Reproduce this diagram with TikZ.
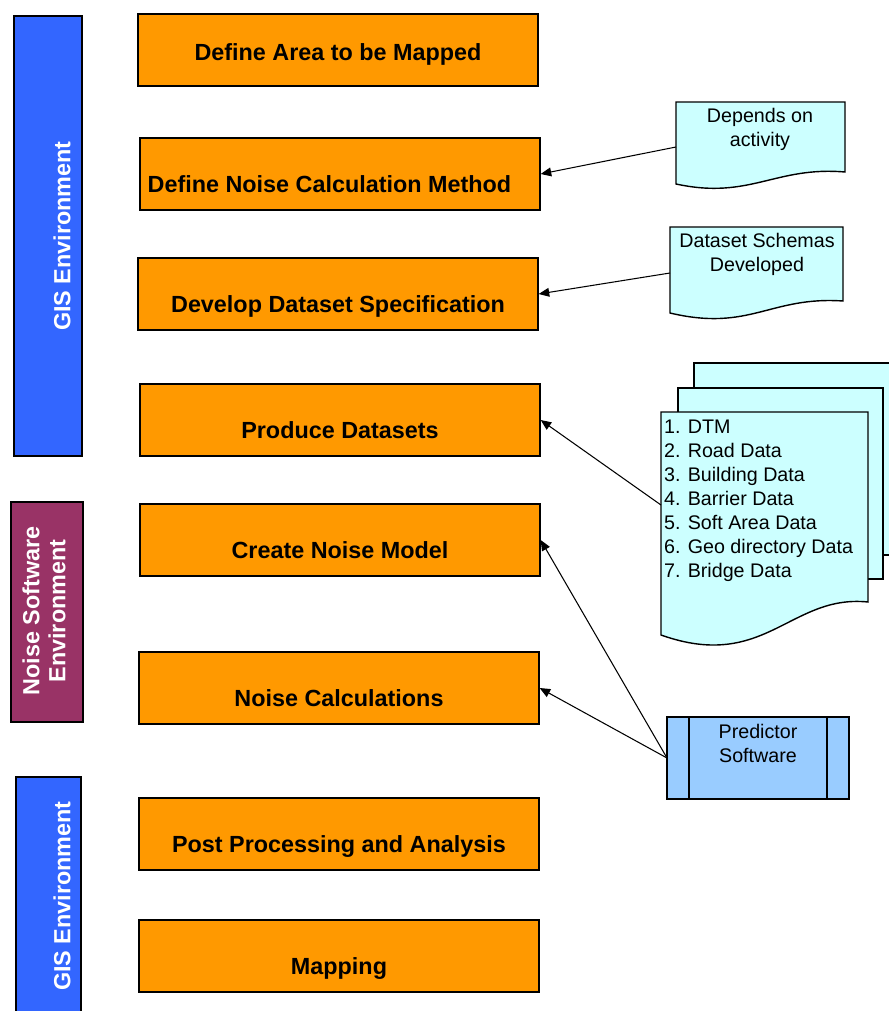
\documentclass[tikz,border=0pt]{standalone}
\usepackage{fontspec}
\setmainfont{Liberation Sans}
\usetikzlibrary{arrows.meta}
\definecolor{steporange}{HTML}{FF9900}
\definecolor{gisblue}{HTML}{3366FF}
\definecolor{noisepurple}{HTML}{993366}
\definecolor{doccyan}{HTML}{CCFFFF}
\definecolor{toolblue}{HTML}{99CCFF}
\begin{document}
\begin{tikzpicture}
[x=0.02cm, y=-0.02cm,
 stepbox/.style={draw, line width=0.8pt, fill=steporange, minimum width=8cm, minimum height=1.44cm,
   font=\bfseries\fontsize{13.3}{16}\selectfont, text height=21pt, text depth=0pt},
 envbar/.style={draw, line width=0.8pt},
 envtext/.style={rotate=90, text=white, align=center, font=\bfseries\fontsize{13.3}{14.7}\selectfont},
 doc/.style={draw, line width=0.8pt, fill=doccyan},
 doctext/.style={align=center, inner sep=1pt, font=\fontsize{11.2}{13.6}\selectfont},
 feed/.style={-{Triangle[length=6pt,width=5pt]}, line width=0.6pt}]

\useasboundingbox (0,0) rectangle (889,1011);

%________________________________________________%
% environments down the left side
\fill[gisblue] (14,16) rectangle (82,456);
\draw[envbar] (14,16) rectangle (82,456);
\node[envtext] (gistop) at (62,236) {GIS Environment};

\fill[noisepurple] (11,502) rectangle (83,722);
\draw[envbar] (11,502) rectangle (83,722);
\node[envtext] (noiseenv) at (44,611) {Noise Software\\Environment};

\fill[gisblue] (16,777) rectangle (81,1011);
\draw[envbar] (16,1011) -- (16,777) -- (81,777) -- (81,1011);
\node[envtext] (gisbottom) at (62,896) {GIS Environment};

%________________________________________________%
% steps
\node[stepbox, text height=12pt] (area) at (338,50) {Define Area to be Mapped};
\node[stepbox, inner xsep=1pt] (method) at (340,174) {Define Noise Calculation Method\hspace*{12pt}};
\node[stepbox] (spec) at (338,294) {Develop Dataset Specification};
\node[stepbox] (produce) at (340,420) {Produce Datasets};
\node[stepbox] (model) at (340,540) {Create Noise Model};
\node[stepbox] (calc) at (339,688) {Noise Calculations};
\node[stepbox] (post) at (339,834) {Post Processing and Analysis};
\node[stepbox] (mapping) at (339,956) {Mapping};

%________________________________________________%
% documents on the right
\draw[doc] (676,102) -- (845,102) -- (845,172) .. controls (775,166) and (750,200) .. (676,184) -- cycle;
\node[doctext, anchor=north] (depends) at (760,106) {Depends on\\activity};
\coordinate (dependsin) at (676,147);

\draw[doc] (670,227) -- (843,227) -- (843,301) .. controls (770,296) and (750,332) .. (670,313) -- cycle;
\node[doctext, anchor=north] (schemas) at (757,231) {Dataset Schemas\\Developed};
\coordinate (schemasin) at (670,273);

%________________________________________________%
% stack of dataset pages
\fill[doccyan] (694,363) rectangle (889,555);
\draw[line width=0.8pt] (889,363) -- (694,363) -- (694,555) -- (889,555);
\draw[doc] (678,388) rectangle (883,579);
\draw[doc] (661,412) -- (868,412) -- (868,602) .. controls (790,594) and (765,672) .. (661,635) -- cycle;
\node[doctext, align=left, anchor=north west] (datalist) at (662,418)
  {1. DTM\\2. Road Data\\3. Building Data\\4. Barrier Data\\5. Soft Area Data\\6. Geo directory Data\\7. Bridge Data};
\coordinate (datain) at (661,505);

%________________________________________________%
% software
\draw[line width=0.8pt, fill=toolblue] (667,717) rectangle (849,799);
\draw[line width=0.8pt] (689,717) -- (689,799) (827,717) -- (827,799);
\node[doctext, anchor=north] (predictor) at (758,722) {Predictor\\Software};
\coordinate (predin) at (667,758);

%________________________________________________%
\draw[feed] (dependsin) -- (method.east);
\draw[feed] (schemasin) -- (spec.east);
\draw[feed] (datain) -- (produce.east);
\draw[feed] (predin) -- (model.east);
\draw[feed] (predin) -- (calc.east);
%________________________________________________%
\end{tikzpicture}
\end{document}
